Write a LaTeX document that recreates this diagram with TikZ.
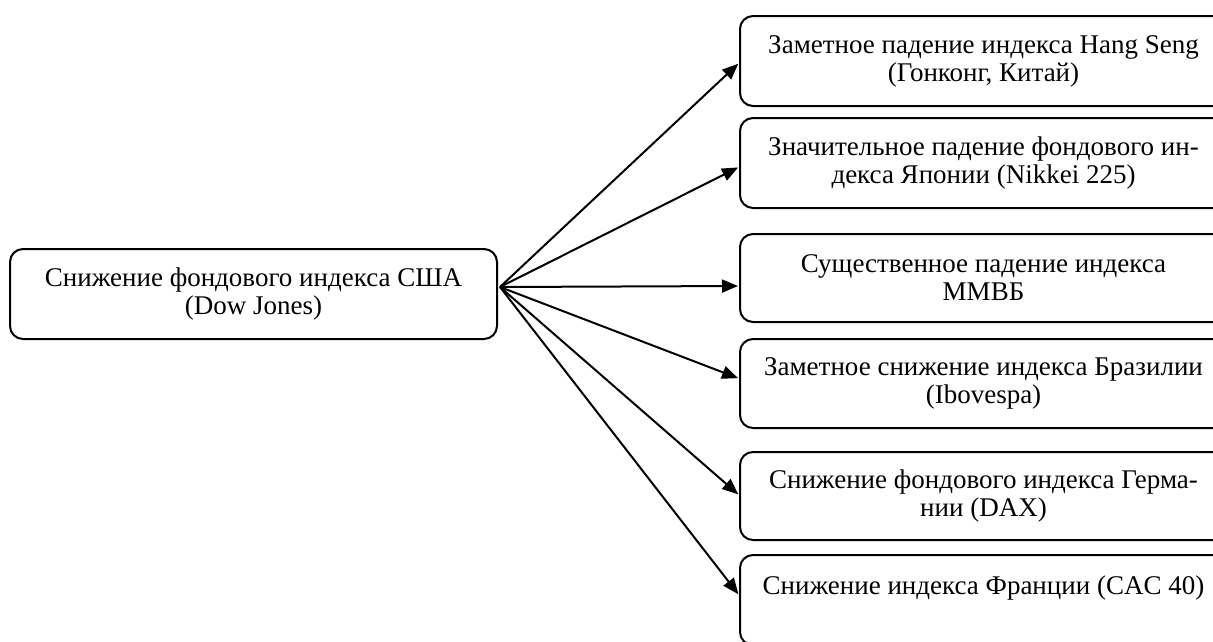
\documentclass[tikz,border=0pt]{standalone}
\usepackage{fontspec}
\setmainfont{Liberation Serif}
\usetikzlibrary{arrows.meta,calc}
\tikzset{
  box/.style={draw=black, line width=2pt, rounded corners=13pt, minimum width=487pt, align=center, font=\fontsize{27}{28}\selectfont, inner sep=0pt},
  arr/.style={draw=black, line width=2pt, -{Triangle[length=16pt,width=13pt]}, shorten >=1pt}
}
\begin{document}
\begin{tikzpicture}[x=1pt,y=-1pt]
\useasboundingbox (0,0) rectangle (1213,641);
\clip (0,0) rectangle (1213,641);
\node[box, minimum height=90pt] (src) at (253.5,294) {Снижение фондового индекса США\\(Dow Jones)};
\node[box, minimum height=90pt] (b1) at (983.5,61) {Заметное падение индекса Hang Seng\\(Гонконг, Китай)};
\node[box, minimum height=90pt] (b2) at (983.5,163) {Значительное падение фондового ин-\\декса Японии (Nikkei 225)};
\node[box, minimum height=88pt] (b3) at (983.5,278) {Существенное падение индекса\\ММВБ};
\node[box, minimum height=89pt] (b4) at (983.5,383.5) {Заметное снижение индекса Бразилии\\(Ibovespa)};
\node[box, minimum height=88pt] (b5) at (983.5,496) {Снижение фондового индекса Герма-\\нии (DAX)};
\node[box, minimum height=90pt, text height=19pt, text depth=31pt] (b6) at (983.5,600) {Снижение индекса Франции (CAC 40)};
\coordinate (o) at ($(src.east)+(2,-7)$);
\draw[arr] (o) -- ($(b1.west)+(0,2)$);
\draw[arr] (o) -- ($(b2.west)+(0,4)$);
\draw[arr] (o) -- ($(b3.west)+(0,8)$);
\draw[arr] (o) -- ($(b4.west)+(0,-5)$);
\draw[arr] (o) -- ($(b5.west)+(0,-1)$);
\draw[arr] (o) -- ($(b6.west)+(0,-5)$);
\end{tikzpicture}
\end{document}
